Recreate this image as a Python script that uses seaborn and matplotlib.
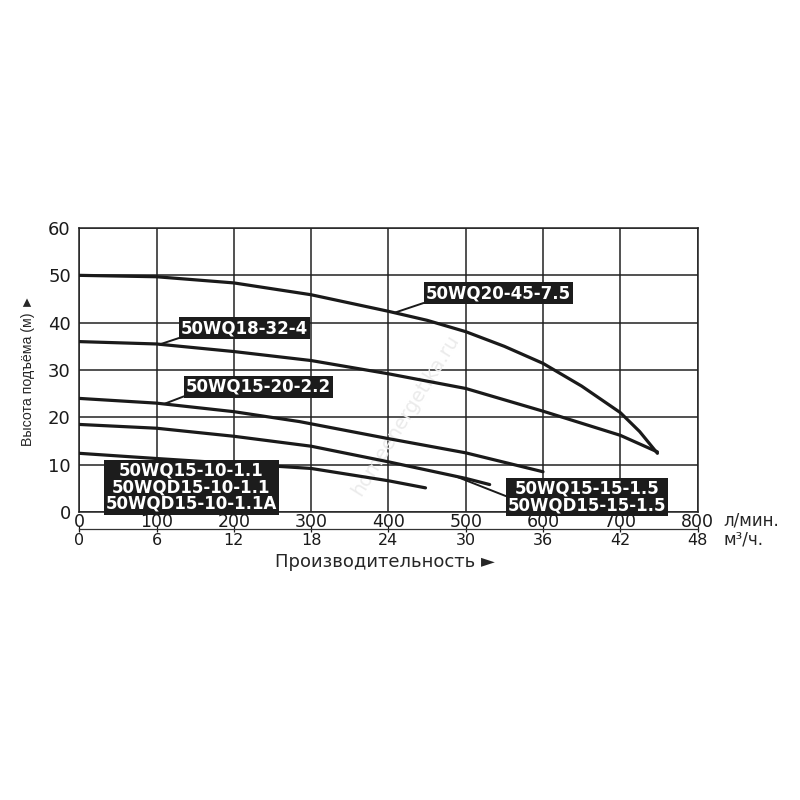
import pandas as pd
import seaborn as sns
import matplotlib.pyplot as plt

# pump curves: flow in l/min, head in m
q_20_45 = [0, 100, 200, 300, 400, 450, 500, 550, 600, 650, 700, 725, 748]
h_20_45 = [50, 49.7, 48.4, 45.9, 42.4, 40.5, 38.1, 35.0, 31.4, 26.6, 21.0, 17.0, 12.4]
q_18_32 = [0, 100, 200, 300, 400, 500, 600, 700, 748]
h_18_32 = [36, 35.5, 33.9, 32.0, 29.2, 26.1, 21.3, 16.2, 12.7]
q_15_20 = [0, 100, 200, 285, 400, 500, 600]
h_15_20 = [24, 23.0, 21.2, 19.1, 15.5, 12.5, 8.5]
q_15_15 = [0, 100, 200, 300, 400, 500, 531]
h_15_15 = [18.5, 17.7, 16.0, 13.9, 10.6, 7.1, 5.8]
q_15_10 = [0, 100, 200, 300, 400, 448]
h_15_10 = [12.4, 11.3, 10.25, 9.2, 6.6, 5.1]

x_ticks = [0, 100, 200, 300, 400, 500, 600, 700, 800]
m3h_ticks = [0, 6, 12, 18, 24, 30, 36, 42, 48]
y_ticks = [0, 10, 20, 30, 40, 50, 60]

curves = {
    "50WQ20-45-7.5": (q_20_45, h_20_45),
    "50WQ18-32-4": (q_18_32, h_18_32),
    "50WQ15-20-2.2": (q_15_20, h_15_20),
    "50WQ15-15-1.5": (q_15_15, h_15_15),
    "50WQ15-10-1.1": (q_15_10, h_15_10),
}
rows = []
for name, (qs, hs) in curves.items():
    for q, h in zip(qs, hs):
        rows.append({"model": name, "q": q, "h": h})
df = pd.DataFrame(rows)

sns.set_style("white")
plt.rcParams["font.family"] = ["DejaVu Sans"]

fig = plt.figure(figsize=(8, 8), dpi=100)
ax = fig.add_axes([0.099, 0.36, 0.773, 0.355])

sns.lineplot(data=df, x="q", y="h", hue="model", palette={m: "#1a1a1a" for m in curves},
             sort=False, estimator=None, legend=False, linewidth=2.3, ax=ax, zorder=3)

ax.set_xlim(0, 800)
ax.set_ylim(0, 60)
ax.set_xticks(x_ticks)
ax.set_yticks(y_ticks)
ax.set_xticklabels([str(t) for t in x_ticks])
ax.grid(True, color="#222222", linewidth=1.1)
for s in ax.spines.values():
    s.set_color("#222222")
    s.set_linewidth(1.1)
ax.tick_params(axis="both", length=0, labelsize=13, colors="#1a1a1a")
ax.tick_params(axis="x", pad=1, labelsize=12.5)
ax.tick_params(axis="y", pad=6)
ax.set_xlabel("")
ax.set_ylabel("")

sec = ax.secondary_xaxis(-0.061, functions=(lambda x: x * 0.06, lambda x: x / 0.06))
sec.set_xticks(m3h_ticks)
sec.set_xticklabels([str(t) for t in m3h_ticks])
sec.spines["bottom"].set_linewidth(0.9)
sec.spines["bottom"].set_color("#333333")
sec.tick_params(direction="inout", length=5, width=0.9, labelsize=11.5, pad=0, colors="#1a1a1a")

ax.text(1.042, -0.03, "л/мин.", transform=ax.transAxes, fontsize=12, va="center", ha="left")
ax.text(1.042, -0.097, "м³/ч.", transform=ax.transAxes, fontsize=12, va="center", ha="left")
ax.text(0.495, -0.176, "Производительность ►", transform=ax.transAxes, fontsize=13,
        va="center", ha="center")
ax.text(-0.0825, 0.499, "Высота подъёма (м) ►", transform=ax.transAxes, fontsize=10.2,
        rotation=90, va="center", ha="center", family=["Liberation Sans", "DejaVu Sans"])

# faint watermark
ax.text(0.527, 0.34, "homeenergetika.ru", transform=ax.transAxes, fontsize=14, color="#ebebeb",
        rotation=58, ha="center", va="center", zorder=1)

box = dict(boxstyle="square,pad=0.12", fc="#1c1c1c", ec="none")
line = dict(arrowstyle="-", color="#1a1a1a", lw=1.4, shrinkA=0, shrinkB=0)
lbl = dict(color="white", fontsize=12, fontweight="bold", ha="center", va="center",
           bbox=box, zorder=5)

ax.annotate("50WQ20-45-7.5", xy=(408, 42.1), xytext=(542, 46.2),
            arrowprops=dict(line, relpos=(0, 0)), **lbl)
ax.annotate("50WQ18-32-4", xy=(104, 35.4), xytext=(214, 38.8),
            arrowprops=dict(line, relpos=(0, 0)), **lbl)
ax.annotate("50WQ15-20-2.2", xy=(111, 22.9), xytext=(232, 26.5),
            arrowprops=dict(line, relpos=(0, 0)), **lbl)
ax.annotate("50WQ15-10-1.1\n50WQD15-10-1.1\n50WQD15-10-1.1A", xy=(228, 10.0), xytext=(145, 5.2),
            linespacing=0.9, arrowprops=dict(line, relpos=(0.79, 1)), **lbl)
ax.annotate("50WQ15-15-1.5\n50WQD15-15-1.5", xy=(486, 7.6), xytext=(657, 3.2),
            linespacing=0.9, arrowprops=dict(line, relpos=(0, 0.5)), **lbl)

fig.savefig("out.png", dpi=100, facecolor="white")
